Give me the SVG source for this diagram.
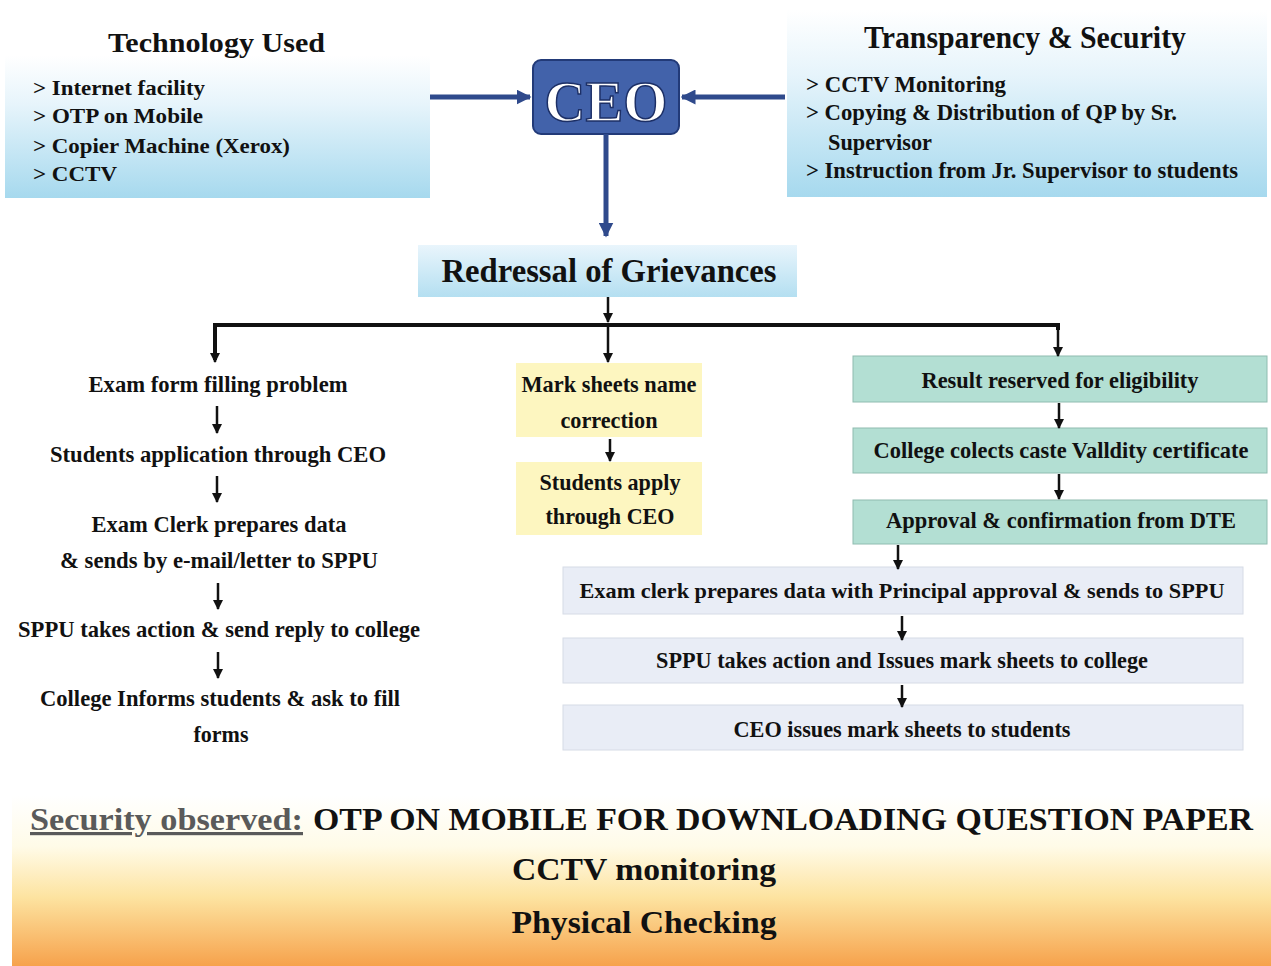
<svg xmlns="http://www.w3.org/2000/svg" width="1271" height="966" viewBox="0 0 1271 966">
<defs>
  <linearGradient id="blueG" x1="0" y1="0" x2="0" y2="1">
    <stop offset="0" stop-color="#ffffff"/>
    <stop offset="0.35" stop-color="#e6f4fb"/>
    <stop offset="1" stop-color="#a6d9ee"/>
  </linearGradient>
  <linearGradient id="redG" x1="0" y1="0" x2="0" y2="1">
    <stop offset="0" stop-color="#e9f5fc"/>
    <stop offset="1" stop-color="#b4dff1"/>
  </linearGradient>
  <linearGradient id="orangeG" x1="0" y1="0" x2="0" y2="1">
    <stop offset="0" stop-color="#ffffff"/>
    <stop offset="0.3" stop-color="#fffbe8"/>
    <stop offset="0.6" stop-color="#fde3a0"/>
    <stop offset="1" stop-color="#f6a24c"/>
  </linearGradient>
  <marker id="ah" viewBox="0 0 10 10" refX="9" refY="5" markerWidth="4" markerHeight="4" orient="auto" markerUnits="strokeWidth">
    <path d="M0,0 L10,5 L0,10 z" fill="#111"/>
  </marker>
  <marker id="bah" viewBox="0 0 10 10" refX="9" refY="5" markerWidth="3" markerHeight="3" orient="auto" markerUnits="strokeWidth">
    <path d="M0,0 L10,5 L0,10 z" fill="#2f4a8c"/>
  </marker>
</defs>
<style>
  text { font-family: "Liberation Serif", "Times New Roman", serif; font-weight: bold; fill: #111; }
  .t22 { font-size: 22px; }
  .t24 { font-size: 24px; }
  .t26 { font-size: 26px; }
  .t32 { font-size: 32px; }
  .mid { text-anchor: middle; }
  .conn { stroke: #111; stroke-width: 2.5; fill: none; }
  .bconn { stroke: #2f4a8c; stroke-width: 5; fill: none; }
  .yel { fill: #fdf6c0; }
  .teal { fill: #b3dfd3; stroke: #8fbcb0; stroke-width: 1; }
  .lav { fill: #e9edf6; stroke: #d6dbe6; stroke-width: 1; }
</style>
<rect width="1271" height="966" fill="#ffffff"/>

<g id="technology">
  <rect x="5" y="55" width="425" height="143" fill="url(#blueG)"/>
  <text x="108" y="52" style="font-size:28px" textLength="217" lengthAdjust="spacingAndGlyphs">Technology Used</text>
  <text class="t22" x="33" y="95" textLength="172" lengthAdjust="spacingAndGlyphs">&gt; Internet facility</text>
  <text class="t22" x="33" y="123" textLength="170" lengthAdjust="spacingAndGlyphs">&gt; OTP on Mobile</text>
  <text class="t22" x="33" y="153" textLength="257" lengthAdjust="spacingAndGlyphs">&gt; Copier Machine (Xerox)</text>
  <text class="t22" x="33" y="181" textLength="84" lengthAdjust="spacingAndGlyphs">&gt; CCTV</text>
</g>

<g id="transparency">
  <rect x="787" y="10" width="480" height="187" fill="url(#blueG)"/>
  <text class="t32" x="864" y="48" textLength="322" lengthAdjust="spacingAndGlyphs">Transparency &amp; Security</text>
  <text class="t24" x="806" y="92" textLength="200" lengthAdjust="spacingAndGlyphs">&gt; CCTV Monitoring</text>
  <text class="t24" x="806" y="120" textLength="371" lengthAdjust="spacingAndGlyphs">&gt; Copying &amp; Distribution of QP by Sr.</text>
  <text class="t24" x="828" y="150" textLength="104" lengthAdjust="spacingAndGlyphs">Supervisor</text>
  <text class="t24" x="806" y="178" textLength="432" lengthAdjust="spacingAndGlyphs">&gt; Instruction from Jr. Supervisor to students</text>
</g>

<g id="ceo">
  <rect x="533" y="60" width="146" height="74" rx="8" fill="#4262aa" stroke="#223a78" stroke-width="2"/>
  <text x="606" y="121" class="mid" style="font-size:58px;fill:#ffffff;stroke:#1c2f66;stroke-width:1.5" textLength="123" lengthAdjust="spacingAndGlyphs">CEO</text>
</g>

<g id="redressal">
  <rect x="418" y="245" width="379" height="52" fill="url(#redG)"/>
  <text x="609" y="282" class="mid" style="font-size:34px" textLength="335" lengthAdjust="spacingAndGlyphs">Redressal of Grievances</text>
</g>

<g id="left-column">
  <text class="t24 mid" x="218" y="392" textLength="259" lengthAdjust="spacingAndGlyphs">Exam form filling problem</text>
  <text class="t24 mid" x="218" y="462" textLength="336" lengthAdjust="spacingAndGlyphs">Students application through CEO</text>
  <text class="t24 mid" x="219" y="532" textLength="255" lengthAdjust="spacingAndGlyphs">Exam Clerk prepares data</text>
  <text class="t24 mid" x="219" y="568" textLength="318" lengthAdjust="spacingAndGlyphs">&amp; sends by e-mail/letter to SPPU</text>
  <text class="t24 mid" x="219" y="637" textLength="402" lengthAdjust="spacingAndGlyphs">SPPU takes action &amp; send reply to college</text>
  <text class="t24 mid" x="220" y="706" textLength="360" lengthAdjust="spacingAndGlyphs">College Informs students &amp; ask to fill</text>
  <text class="t24 mid" x="221" y="742" textLength="55" lengthAdjust="spacingAndGlyphs">forms</text>
</g>

<g id="mark-sheets">
  <rect class="yel" x="516" y="363" width="186" height="74"/>
  <text class="t24 mid" x="609" y="392" textLength="175" lengthAdjust="spacingAndGlyphs">Mark sheets name</text>
  <text class="t24 mid" x="609" y="428" textLength="97" lengthAdjust="spacingAndGlyphs">correction</text>
</g>
<g id="students-apply">
  <rect class="yel" x="516" y="462" width="186" height="73"/>
  <text class="t24 mid" x="610" y="490" textLength="141" lengthAdjust="spacingAndGlyphs">Students apply</text>
  <text class="t24 mid" x="610" y="524" textLength="129" lengthAdjust="spacingAndGlyphs">through CEO</text>
</g>

<g id="result-reserved">
  <rect class="teal" x="853" y="356" width="414" height="46"/>
  <text class="t24 mid" x="1060" y="388" textLength="277" lengthAdjust="spacingAndGlyphs">Result reserved for eligibility</text>
</g>
<g id="caste-validity">
  <rect class="teal" x="853" y="428" width="414" height="45"/>
  <text class="mid" style="font-size:23px" x="1061" y="458" textLength="375" lengthAdjust="spacingAndGlyphs">College colects caste Valldity certificate</text>
</g>
<g id="dte-approval">
  <rect class="teal" x="853" y="500" width="414" height="44"/>
  <text class="t24 mid" x="1061" y="528" textLength="350" lengthAdjust="spacingAndGlyphs">Approval &amp; confirmation from DTE</text>
</g>
<g id="exam-clerk">
  <rect class="lav" x="563" y="567" width="680" height="47"/>
  <text class="mid" style="font-size:22px" x="902" y="598" textLength="645" lengthAdjust="spacingAndGlyphs">Exam clerk prepares data with Principal approval &amp; sends to SPPU</text>
</g>
<g id="sppu-issues">
  <rect class="lav" x="563" y="638" width="680" height="45"/>
  <text class="t24 mid" x="902" y="668" textLength="492" lengthAdjust="spacingAndGlyphs">SPPU takes action and Issues mark sheets to college</text>
</g>
<g id="ceo-issues">
  <rect class="lav" x="563" y="705" width="680" height="45"/>
  <text class="t24 mid" x="902" y="737" textLength="337" lengthAdjust="spacingAndGlyphs">CEO issues mark sheets to students</text>
</g>

<g id="security">
  <rect x="12" y="795" width="1259" height="171" fill="url(#orangeG)"/>
  <text class="t32" x="30" y="830" style="fill:#5a5a5a;text-decoration:underline" textLength="273" lengthAdjust="spacingAndGlyphs">Security observed:</text>
  <text class="t32" x="313" y="830" textLength="940" lengthAdjust="spacingAndGlyphs">OTP ON MOBILE FOR DOWNLOADING QUESTION PAPER</text>
  <text class="t32 mid" x="644" y="880" textLength="264" lengthAdjust="spacingAndGlyphs">CCTV monitoring</text>
  <text class="t32 mid" x="644" y="933" textLength="265" lengthAdjust="spacingAndGlyphs">Physical Checking</text>
</g>

<g id="connectors">
  <line class="bconn" x1="430" y1="97" x2="530" y2="97" marker-end="url(#bah)"/>
  <line class="bconn" x1="785" y1="97" x2="682" y2="97" marker-end="url(#bah)"/>
  <line class="bconn" x1="606" y1="134" x2="606" y2="236" marker-end="url(#bah)"/>
  <line class="conn" x1="608" y1="297" x2="608" y2="322" marker-end="url(#ah)"/>
  <polyline points="215,360 215,325 1058,325 1058,330" fill="none" stroke="#111" stroke-width="4"/>
  <line class="conn" x1="215" y1="327" x2="215" y2="362" marker-end="url(#ah)"/>
  <line class="conn" x1="608" y1="327" x2="608" y2="362" marker-end="url(#ah)"/>
  <line class="conn" x1="1058" y1="327" x2="1058" y2="356" stroke-width="3" marker-end="url(#ah)"/>
  <line class="conn" x1="217" y1="406" x2="217" y2="433" marker-end="url(#ah)"/>
  <line class="conn" x1="217" y1="476" x2="217" y2="502" marker-end="url(#ah)"/>
  <line class="conn" x1="218" y1="583" x2="218" y2="609" marker-end="url(#ah)"/>
  <line class="conn" x1="218" y1="652" x2="218" y2="678" marker-end="url(#ah)"/>
  <line class="conn" x1="610" y1="439" x2="610" y2="461" marker-end="url(#ah)"/>
  <line class="conn" x1="1059" y1="403" x2="1059" y2="428" marker-end="url(#ah)"/>
  <line class="conn" x1="1059" y1="474" x2="1059" y2="499" marker-end="url(#ah)"/>
  <line class="conn" x1="898" y1="545" x2="898" y2="569" marker-end="url(#ah)"/>
  <line class="conn" x1="902" y1="616" x2="902" y2="640" marker-end="url(#ah)"/>
  <line class="conn" x1="902" y1="685" x2="902" y2="707" marker-end="url(#ah)"/>
</g>
</svg>
